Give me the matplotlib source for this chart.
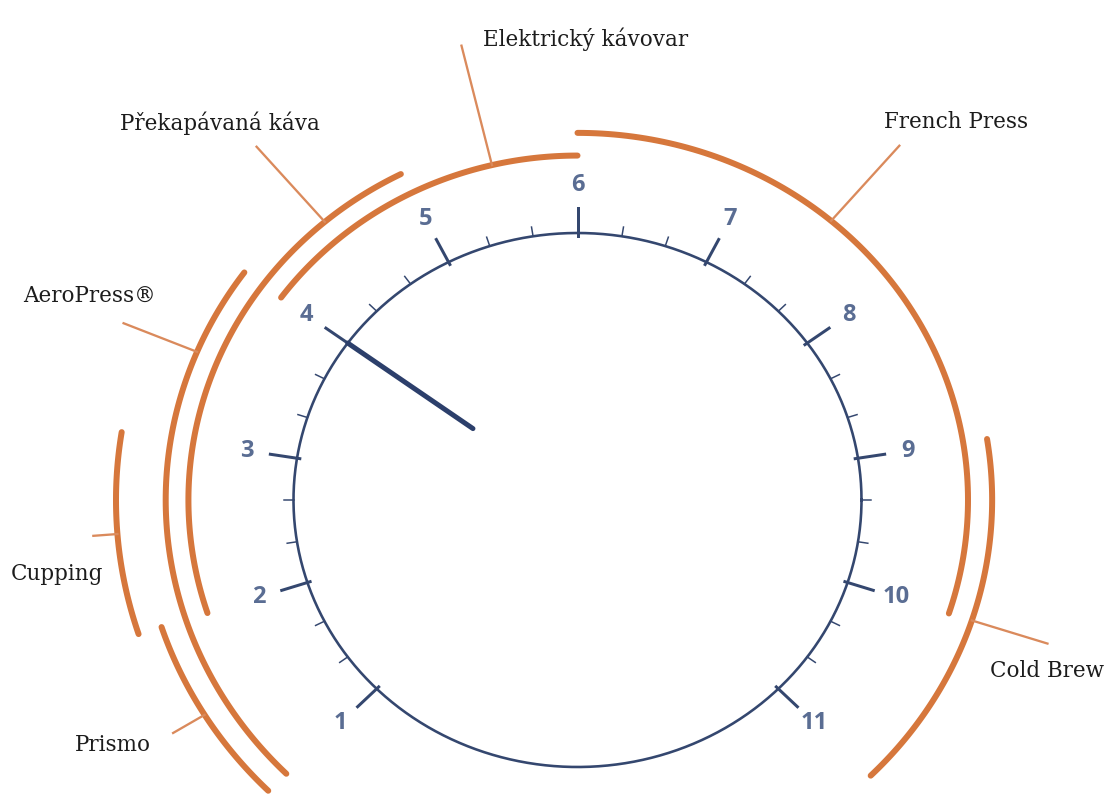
import numpy as np
import matplotlib
matplotlib.use('Agg')
import matplotlib.pyplot as plt

# grind dial: settings 1..11, 6 at the top, 27 degrees per step
settings = list(range(1, 12))
minor_per_step = 3
needle_setting = 4

# brew methods and their grind ranges on the dial
methods = ['Elektrický kávovar', 'Překapávaná káva', 'AeroPress®', 'Cupping',
           'Prismo', 'French Press', 'Cold Brew']
range_lo = [4, 2, 1, 2, 1, 6, 9]
range_hi = [6, 5, 4, 3, 2, 10, 11]
leader_at = [5.5, 4.5, 3.5, 2.5, 1.5, 7.5, 10]

# layout only: ring radius of each arc, leader end radius, label offset (px)
ring = [1.29, 1.37, 1.45, 1.625, 1.54, 1.375, 1.46]
leader_end = [1.75, 1.74, 1.73, 1.71, 1.67, 1.745, 1.74]
label_off = [(22, 6), (-137, 23), (-100, 27), (-83, -38), (-98, -12),
             (-15, 24), (-57, -27)]

W, H = 1115, 800
CX, CY = 577.5, 500     # dial centre in px (from top-left)
SX, SY = 284, 267       # px per unit radius (dial is a bit wider than tall)
BORDER = 10

ORANGE = '#d6773c'
LEADER = '#da8a5c'
NAVY = '#34476f'
NEEDLE = '#2c3f6b'
NUMCOL = '#5a6d93'
BG = '#efeeec'


def angle(d):
    return np.deg2rad(90 + 27 * (6 - np.asarray(d, dtype=float)))


def pol(d, r):
    a = angle(d)
    return r * np.cos(a), r * np.sin(a)


def pt(px):
    return px * 72 / 100.0


fig = plt.figure(figsize=(W / 100, H / 100), dpi=100, facecolor='white')
ax = fig.add_axes([BORDER / W, 0, 1 - BORDER / W, 1 - BORDER / H])
ax.set_facecolor(BG)
ax.set_xlim((BORDER - CX) / SX, (W - CX) / SX)
ax.set_ylim((CY - H) / SY, (CY - BORDER) / SY)
ax.set_axis_off()
ax.patch.set_visible(True)

# dial ring
t = np.linspace(0, 2 * np.pi, 400)
ax.plot(np.cos(t), np.sin(t), color=NAVY, lw=pt(2.6), zorder=3)

# minor ticks
minors = np.linspace(settings[0], settings[-1],
                     (len(settings) - 1) * minor_per_step + 1)
for d in minors:
    if abs(d - round(d)) < 1e-6:
        continue
    x0, y0 = pol(d, 1.0)
    x1, y1 = pol(d, 1.035)
    ax.plot([x0, x1], [y0, y1], color=NAVY, lw=pt(1.5), zorder=3)

# major ticks and numbers
for d in settings:
    x0, y0 = pol(d, 0.99)
    x1, y1 = pol(d, 1.095)
    ax.plot([x0, x1], [y0, y1], color=NAVY, lw=pt(3), zorder=3)
    xt, yt = pol(d, 1.18)
    ax.text(xt, yt, str(d), ha='center', va='center', color=NUMCOL,
            fontsize=17, fontweight='bold', family='Open Sans', zorder=3)

# needle
x0, y0 = pol(needle_setting, 1.0)
x1, y1 = pol(needle_setting, 0.455)
ax.plot([x0, x1], [y0, y1], color=NEEDLE, lw=pt(5), solid_capstyle='round',
        zorder=4)

# brew method arcs with leader lines and labels
for name, lo, hi, r, la, re, off in zip(methods, range_lo, range_hi, ring,
                                        leader_at, leader_end, label_off):
    dd = np.linspace(lo, hi, 120)
    xs, ys = pol(dd, r)
    ax.plot(xs, ys, color=ORANGE, lw=pt(6), solid_capstyle='round', zorder=2)
    xa, ya = pol(la, r)
    xb, yb = pol(la, re)
    ax.plot([xa, xb], [ya, yb], color=LEADER, lw=pt(2.3), zorder=2)
    ax.annotate(name, (xb, yb), xytext=(pt(off[0]), pt(off[1])),
                textcoords='offset points', ha='left', va='center',
                fontsize=15.5, family='DejaVu Serif', color='#1c1c1c',
                annotation_clip=False)

fig.savefig('out.png', dpi=100, facecolor='white')
